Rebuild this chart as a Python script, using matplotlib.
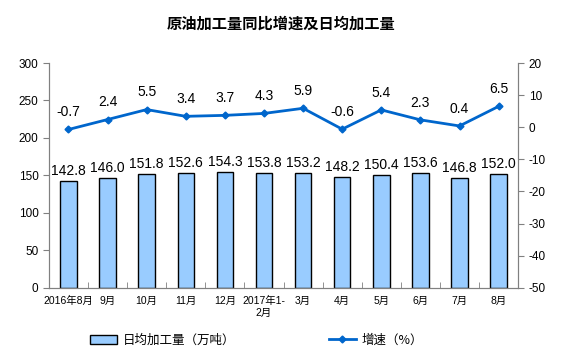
import numpy as np
import matplotlib.pyplot as plt
from matplotlib.patches import Patch
from matplotlib.lines import Line2D

plt.rcParams['font.family'] = ['Liberation Sans', 'Noto Sans CJK SC', 'DejaVu Sans']
plt.rcParams['axes.unicode_minus'] = False

months = ['2016年8月', '9月', '10月', '11月', '12月', '2017年1-\n2月',
          '3月', '4月', '5月', '6月', '7月', '8月']
daily_output = [142.8, 146.0, 151.8, 152.6, 154.3, 153.8, 153.2, 148.2, 150.4, 153.6, 146.8, 152.0]
growth = [-0.7, 2.4, 5.5, 3.4, 3.7, 4.3, 5.9, -0.6, 5.4, 2.3, 0.4, 6.5]

bar_color = '#99CCFF'
line_color = '#0066CC'
spine_gray = '#808080'

fig = plt.figure(figsize=(5.62, 3.58), dpi=100)
ax = fig.add_axes([0.087, 0.196, 0.835, 0.628])
ax2 = ax.twinx()

x = np.arange(len(months))
ax.bar(x, daily_output, width=0.42, color=bar_color, edgecolor='black', linewidth=1)
for xi, v in zip(x, daily_output):
    ax.text(xi, v + 4, f'{v:.1f}', ha='center', va='bottom', fontsize=10)

ax2.plot(x, growth, color=line_color, linewidth=2, marker='D', markersize=3.5)
for xi, v in zip(x, growth):
    ax2.text(xi, v + 3.2, f'{v:.1f}', ha='center', va='bottom', fontsize=10)

ax.set_xlim(-0.5, len(months) - 0.5)
ax.set_ylim(0, 300)
ax.set_yticks(range(0, 301, 50))
ax2.set_ylim(-50, 20)
ax2.set_yticks(range(-50, 21, 10))

ax.set_xticks(x)
ax.set_xticklabels(months, fontsize=7.5)
ax.set_xticks(np.arange(-0.5, len(months), 1), minor=True)
ax.tick_params(axis='x', which='major', length=0, pad=6)
ax.tick_params(axis='x', which='minor', length=4, direction='in', color=spine_gray)
ax.tick_params(axis='y', labelsize=8.5, length=4, color=spine_gray)
ax2.tick_params(axis='y', labelsize=8.5, length=4, color=spine_gray)

for a in (ax, ax2):
    a.spines['top'].set_visible(False)
    for s in ('left', 'right', 'bottom'):
        a.spines[s].set_color(spine_gray)

fig.text(0.5, 0.935, '原油加工量同比增速及日均加工量', ha='center', va='center',
         fontsize=11, fontweight='bold', family=['Noto Sans CJK SC', 'DejaVu Sans'])

handles = [Patch(facecolor=bar_color, edgecolor='black', linewidth=1),
           Line2D([], [], color=line_color, linewidth=2, marker='D', markersize=3.5)]
fig.legend(handles, ['日均加工量（万吨）', '增速（%）'], loc='center', bbox_to_anchor=(0.456, 0.05),
           ncol=2, frameon=False, columnspacing=7.5, handlelength=2.2, handletextpad=0.4,
           prop={'family': ['Noto Sans CJK SC', 'DejaVu Sans'], 'size': 9})

fig.savefig('out.png', dpi=100)
